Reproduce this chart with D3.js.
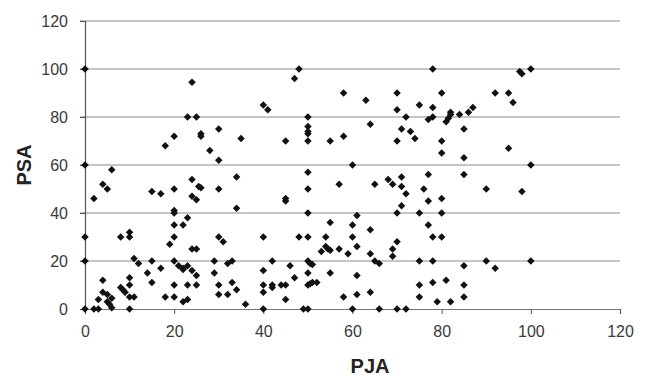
<!DOCTYPE html>
<html>
<head>
<meta charset="utf-8">
<script src="https://cdn.jsdelivr.net/npm/d3@7"></script>
<style>
  html, body { margin: 0; padding: 0; background: #fff; }
  svg { display: block; font-family: "Liberation Sans", Arial, sans-serif; }
</style>
</head>
<body>
<div id="chart"></div>
<script>
// PJA values (x) and PSA values (y)
const pja = [
  0, 24, 23, 25, 20, 18, 26, 26, 30, 28, 30, 0, 6, 24, 34,
  48, 47, 58, 63, 40, 41, 50, 50, 50, 50, 50, 35, 45, 55, 58, 64, 60, 50, 57, 65, 50,
  78, 97.5, 98, 100, 70, 80, 92, 95, 96, 70, 75, 78, 72, 77, 78, 82, 82, 81.5, 81, 84, 86, 87,
  71, 73, 74, 70, 80, 85, 80, 85, 95, 100, 68, 69, 71, 77, 85, 71, 76, 90, 98,
  72, 77, 80, 71, 70, 75, 80, 77, 78, 80, 70, 69, 69, 66, 75, 78, 85, 90, 92, 100,
  75, 78, 81, 85, 75, 85, 79, 82, 66, 70, 72,
  45, 45, 34, 50, 61, 55, 60, 64, 40, 48, 50, 54, 60, 54, 54.5, 53, 55, 57, 61, 59, 64,
  33, 42, 50, 50.5, 51, 46, 40, 50, 55, 61, 47, 65,
  33, 34, 40, 40, 42, 42, 44, 45, 50, 50.5, 51, 52, 61, 64, 58, 45, 36, 40, 49, 50, 60,
  4, 5, 2, 15, 17, 20, 25.5, 26, 24, 25, 30, 20, 20, 23, 20, 22, 20, 19, 24, 25, 30, 31,
  0, 8, 10, 10, 0, 11, 12, 15, 20, 21, 22, 23, 24, 22, 17, 14, 15, 25, 29, 32, 29,
  20, 23, 25, 30, 32, 30, 18, 20, 22, 23, 10, 10, 8, 8.5, 9, 4, 4, 5, 3, 6, 5, 5.5, 10, 11,
  0, 2, 3, 6, 10
];
const psa = [
  100, 94.5, 80, 80, 72, 68, 73, 72, 75, 66, 62, 60, 58, 54, 55,
  100, 96, 90, 87, 85, 83, 80, 76, 74, 73, 70, 71, 70, 70, 72, 77, 60, 57, 52, 52, 50,
  100, 99, 98, 100, 90, 90, 90, 90, 86, 83, 85, 84, 80, 79, 80, 82, 81, 79.5, 78, 81, 82, 84,
  75, 74, 71, 70, 70, 75, 65, 63, 67, 60, 54, 52, 55, 56, 56, 51, 50, 50, 49,
  48, 45, 46, 43, 40, 40, 40, 35, 30, 30, 28, 25, 22, 19, 20, 20, 18, 20, 17, 20,
  10, 11, 12, 10, 5, 5, 3, 3, 0, 0, 0,
  46, 45, 42, 40, 39, 36, 35, 33, 30, 30, 30, 30, 30, 26, 25, 24, 24.5, 25, 26, 23, 23,
  20, 20, 20, 19, 18.5, 18, 16, 15, 15, 14, 13, 20,
  11, 8, 10, 7, 10, 9, 10, 10, 10, 10.5, 11, 11, 6, 7, 5, 4, 2, 0, 0, 0, 0,
  52, 50, 46, 49, 48, 50, 51, 50.5, 47, 45.5, 50, 41, 40, 38, 35, 35, 30, 27, 25, 25, 30, 28,
  30, 30, 30, 32, 20, 21, 19, 20, 20, 18, 17, 18, 16, 16.5, 17, 15, 11, 14, 20, 19, 15,
  10, 10, 10, 10, 6, 6, 5, 5, 3, 4, 13, 10, 9, 8, 7, 12, 7, 6, 4, 4.5, 3, 2, 5, 5,
  0, 0, 0, 0.5, 0
];
const tickValues = [0, 20, 40, 60, 80, 100, 120];
const xTitle = "PJA";
const yTitle = "PSA";

const points = pja.map((x, i) => ({ x: x, y: psa[i] }));

const width = 650, height = 379;
const margin = { left: 85, right: 30, top: 21, bottom: 70 };

const svg = d3.select("#chart").append("svg")
  .attr("width", width)
  .attr("height", height);

const xScale = d3.scaleLinear().domain([0, 120]).range([margin.left, width - margin.right]);
const yScale = d3.scaleLinear().domain([0, 120]).range([height - margin.bottom, margin.top]);

// horizontal gridlines (with the small left tick)
svg.append("g")
  .selectAll("line")
  .data(tickValues.slice(1))
  .join("line")
  .attr("x1", xScale(0) - 5)
  .attr("x2", xScale(120))
  .attr("y1", d => yScale(d))
  .attr("y2", d => yScale(d))
  .attr("stroke", "#8c8c8c")
  .attr("stroke-width", 1.2);

// y axis
const yAxis = svg.append("g")
  .attr("transform", `translate(${xScale(0)},0)`)
  .call(d3.axisLeft(yScale).tickValues(tickValues).tickSize(5).tickPadding(12));
yAxis.select(".domain").attr("stroke", "#555").attr("stroke-width", 1.2);
yAxis.selectAll(".tick line").attr("stroke", "#555");
yAxis.selectAll("text").attr("font-size", 16).attr("fill", "#3a3a3a");

// x axis
const xAxis = svg.append("g")
  .attr("transform", `translate(0,${yScale(0)})`)
  .call(d3.axisBottom(xScale).tickValues(tickValues).tickSize(5).tickPadding(12));
xAxis.select(".domain").attr("stroke", "#777").attr("stroke-width", 1.2);
xAxis.selectAll(".tick line").attr("stroke", "#555");
xAxis.selectAll("text").attr("font-size", 16).attr("fill", "#3a3a3a");

// diamond markers
const diamond = d3.symbol().type(d3.symbolSquare).size(28);
svg.append("g")
  .selectAll("path")
  .data(points)
  .join("path")
  .attr("d", diamond)
  .attr("transform", d => `translate(${xScale(d.x)},${yScale(d.y)}) rotate(45)`)
  .attr("fill", "#111");

// axis titles
svg.append("text")
  .attr("x", 370)
  .attr("y", 373)
  .attr("text-anchor", "middle")
  .attr("font-size", 20)
  .attr("font-weight", "bold")
  .attr("fill", "#222")
  .text(xTitle);

svg.append("text")
  .attr("transform", `translate(31,${(yScale(0) + yScale(120)) / 2}) rotate(-90)`)
  .attr("text-anchor", "middle")
  .attr("font-size", 20)
  .attr("font-weight", "bold")
  .attr("fill", "#222")
  .text(yTitle);
</script>
</body>
</html>
